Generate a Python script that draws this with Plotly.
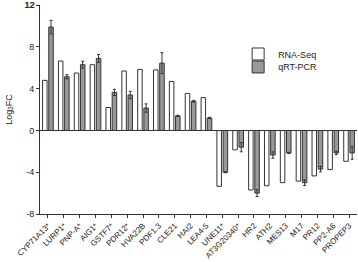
import plotly.graph_objects as go

genes = ["CYP71A13*", "LURP1*", "PNP-A*", "AIG1*", "GSTF7*", "PDR12*", "HVA22B", "PDF1.3",
         "CLE21", "HAI2", "LEA4-5", "UNE11*", "AT3G20340*", "HR2", "ATH2", "MES13", "M17",
         "PR12", "PP2-A6", "PROPEP3"]
rna_seq = [4.8, 6.65, 5.5, 6.3, 2.2, 5.7, 5.85, 5.8, 4.7, 3.55, 3.15,
           -5.35, -1.85, -5.7, -5.3, -5.0, -4.85, -4.35, -3.75, -2.95]
qrt_pcr = [9.9, 5.15, 6.3, 6.9, 3.65, 3.4, 2.15, 6.45, 1.4, 2.8, 1.2,
           -4.0, -1.6, -6.0, -2.35, -2.15, -5.0, -3.7, -2.15, -2.15]
qrt_err = [0.65, 0.2, 0.33, 0.38, 0.3, 0.35, 0.4, 1.0, 0.06, 0.08, 0.06,
           0.05, 0.44, 0.33, 0.3, 0.06, 0.27, 0.26, 0.16, 0.6]
y_ticks = [-8, -4, 0, 4, 8, 12]

dark = "#333333"
fig = go.Figure()
fig.add_trace(go.Bar(x=genes, y=rna_seq, name="RNA-Seq", legend="legend",
                     marker=dict(color="white", line=dict(color=dark, width=1))))
fig.add_trace(go.Bar(x=genes, y=qrt_pcr, name="qRT-PCR", legend="legend2",
                     marker=dict(color="#999999", line=dict(color=dark, width=1)),
                     error_y=dict(type="data", array=qrt_err, visible=True,
                                  color=dark, thickness=1, width=1.5)))

leg_common = dict(xanchor="left", yanchor="top", bgcolor="rgba(0,0,0,0)",
                  font=dict(size=9))
fig.update_layout(
    width=358, height=262,
    margin=dict(l=40, r=1, t=5, b=48, autoexpand=False),
    barmode="group", bargap=0.22, bargroupgap=0.27,
    plot_bgcolor="white", paper_bgcolor="white",
    font=dict(family="Liberation Sans, Arial, sans-serif", size=8, color="#222222"),
    showlegend=True,
    legend=dict(x=0.625, y=0.835, **leg_common),
    legend2=dict(x=0.625, y=0.773, **leg_common),
)
fig.update_xaxes(showline=True, linecolor=dark, linewidth=1, ticks="outside",
                 ticklen=3, tickcolor=dark, tickangle=-45, showgrid=False,
                 tickfont=dict(size=8), automargin=False, ticklabeloverflow="allow")
fig.update_yaxes(range=[-8, 12.02], tickvals=y_ticks, ticktext=[str(v) for v in y_ticks],
                 showline=True, linecolor=dark, linewidth=1,
                 ticks="outside", ticklen=3, tickcolor=dark, showgrid=False,
                 zeroline=True, zerolinecolor=dark, zerolinewidth=1,
                 tickfont=dict(size=9), automargin=False, ticklabeloverflow="allow",
                 title=dict(text="Log<sub>2</sub>FC", font=dict(size=9), standoff=10))

# top tick label, placed on the y scale (the axis' own top label is suppressed at the edge)
fig.add_annotation(x=0, xref="paper", y=y_ticks[-1], yref="y", text=str(y_ticks[-1]),
                   showarrow=False, xanchor="right", yanchor="middle", xshift=-4,
                   borderpad=0, font=dict(size=9, color="#222222"))

fig.write_html("out.html", config={"displayModeBar": False},
               post_script="document.body.style.margin='0';")
